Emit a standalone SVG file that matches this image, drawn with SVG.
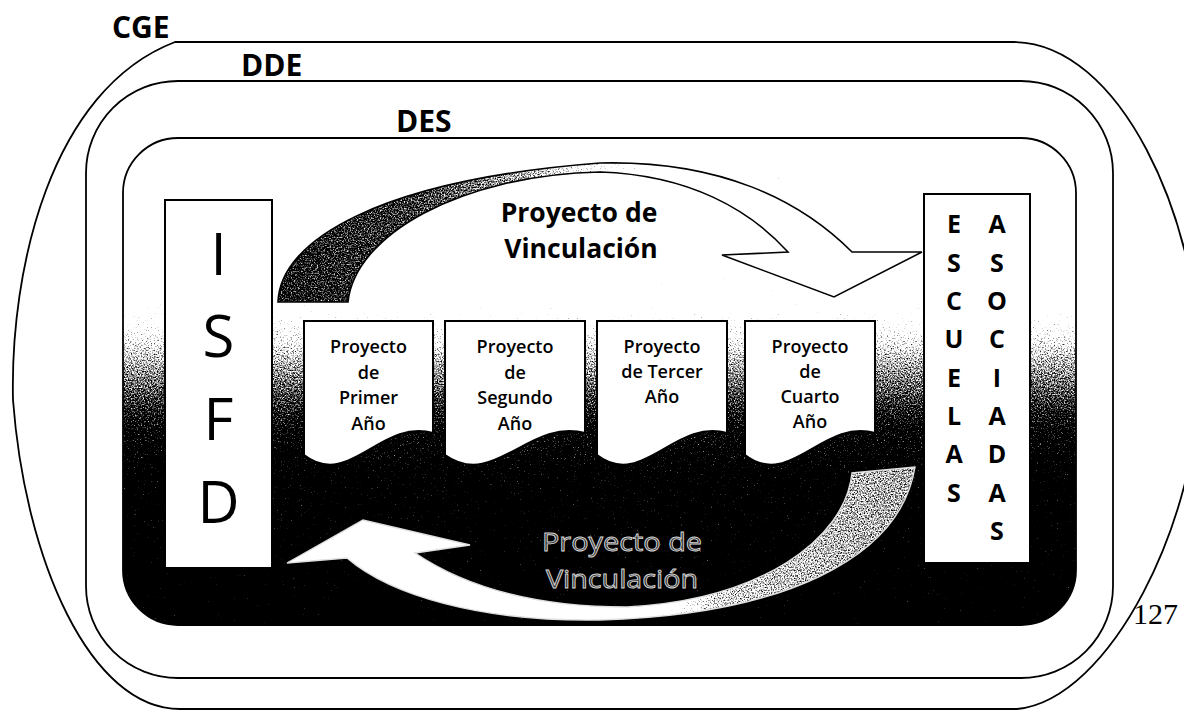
<svg xmlns="http://www.w3.org/2000/svg" width="1184" height="711" viewBox="0 0 1184 711">
<defs>
<style>
.bnd{fill:none;stroke:#000;stroke-width:1.8}
.lbl{font-family:"Open Sans","Liberation Sans",sans-serif;font-weight:700;font-size:30px;fill:#000}
.box{fill:#fff;stroke:#000;stroke-width:2}
.big{font-family:"Open Sans","Liberation Sans",sans-serif;font-size:58px;fill:#000;text-anchor:middle}
.col{font-family:"Open Sans","Liberation Sans",sans-serif;font-weight:700;font-size:25px;fill:#000;text-anchor:middle}
.doc{fill:#fff;stroke:#000;stroke-width:2}
.dt{font-family:"Open Sans","Liberation Sans",sans-serif;font-weight:600;font-size:18px;fill:#000;text-anchor:middle}
.arrt{font-family:"Open Sans","Liberation Sans",sans-serif;font-weight:700;font-size:26.5px;fill:#000;text-anchor:middle}
.emb{font-family:"Open Sans","Liberation Sans",sans-serif;font-size:26px;fill:#2a2a2a;stroke:#d4d4d4;stroke-width:0.9;text-anchor:middle}
</style>
<linearGradient id="desFill" gradientUnits="userSpaceOnUse" x1="0" y1="137" x2="0" y2="625">
<stop offset="0" stop-color="#ffffff"/>
<stop offset="0.293" stop-color="#ffffff"/>
<stop offset="0.355" stop-color="#ececec"/>
<stop offset="0.416" stop-color="#b8b8b8"/>
<stop offset="0.467" stop-color="#909090"/>
<stop offset="0.529" stop-color="#6a6a6a"/>
<stop offset="0.6" stop-color="#404040"/>
<stop offset="0.703" stop-color="#262626"/>
<stop offset="1" stop-color="#151515"/>
</linearGradient>
<linearGradient id="topArrFill" gradientUnits="userSpaceOnUse" x1="278" y1="0" x2="700" y2="0">
<stop offset="0" stop-color="#555"/>
<stop offset="0.34" stop-color="#666"/>
<stop offset="0.575" stop-color="#909090"/>
<stop offset="0.76" stop-color="#c8c8c8"/>
<stop offset="0.95" stop-color="#fff"/>
<stop offset="1" stop-color="#fff"/>
</linearGradient>
<linearGradient id="botArrFill" gradientUnits="userSpaceOnUse" x1="560" y1="0" x2="915" y2="0">
<stop offset="0" stop-color="#fff"/>
<stop offset="0.25" stop-color="#fff"/>
<stop offset="0.45" stop-color="#a0a0a0"/>
<stop offset="1" stop-color="#8c8c8c"/>
</linearGradient>
<filter id="grain" x="-0.02" y="-0.02" width="1.04" height="1.04" color-interpolation-filters="sRGB">
<feTurbulence type="fractalNoise" baseFrequency="0.7" numOctaves="2" seed="7" result="noise"/>
<feColorMatrix in="noise" type="matrix" values="1 0 0 0 0  1 0 0 0 0  1 0 0 0 0  0 0 0 0 1" result="gn"/>
<feComposite in="SourceGraphic" in2="gn" operator="arithmetic" k1="0" k2="1" k3="0.9" k4="-0.45" result="mix"/>
<feComponentTransfer in="mix" result="thr">
<feFuncR type="linear" slope="3" intercept="-1"/>
<feFuncG type="linear" slope="3" intercept="-1"/>
<feFuncB type="linear" slope="3" intercept="-1"/>
</feComponentTransfer>
<feComposite in="thr" in2="SourceGraphic" operator="in"/>
</filter>
</defs>
<rect x="0" y="0" width="1184" height="711" fill="#fff"/>

<g id="cge">
<path class="bnd" d="M175,42 H1013 C1120,42 1200,220 1200,370 C1200,520 1110,700 1017,709 H180 C90,709 25,560 13,400 C10,270 50,90 175,42 Z"/>
<text class="lbl" x="112" y="38">CGE</text>
</g>

<g id="dde">
<rect class="bnd" x="86" y="81" width="1027" height="597" rx="92" ry="92"/>
<text class="lbl" x="241" y="76">DDE</text>
</g>

<g id="des">
<rect x="123" y="138" width="953" height="487" rx="55" ry="55" fill="url(#desFill)" filter="url(#grain)"/>
<rect class="bnd" x="123" y="138" width="953" height="487" rx="55" ry="55"/>
<text class="lbl" x="396" y="132">DES</text>
</g>

<g id="isfd">
<rect class="box" x="165" y="200" width="107" height="368"/>
<text class="big" x="218.5" y="275">I</text>
<text class="big" x="218.5" y="357">S</text>
<text class="big" x="218.5" y="440">F</text>
<text class="big" x="218.5" y="523">D</text>
</g>

<g id="escuelas-asociadas">
<rect class="box" x="924" y="194" width="106" height="369"/>
<text class="col" x="954" y="233">E</text>
<text class="col" x="954" y="272">S</text>
<text class="col" x="954" y="310">C</text>
<text class="col" x="954" y="348">U</text>
<text class="col" x="954" y="387">E</text>
<text class="col" x="954" y="425">L</text>
<text class="col" x="954" y="463">A</text>
<text class="col" x="954" y="502">S</text>
<text class="col" x="997" y="233">A</text>
<text class="col" x="997" y="272">S</text>
<text class="col" x="997" y="310">O</text>
<text class="col" x="997" y="348">C</text>
<text class="col" x="997" y="387">I</text>
<text class="col" x="997" y="425">A</text>
<text class="col" x="997" y="463">D</text>
<text class="col" x="997" y="502">A</text>
<text class="col" x="997" y="540">S</text>
</g>

<g id="doc1">
<path class="doc" d="M304,321 H433 V433 C381,418 349,490 304,455 Z"/>
<text class="dt" x="368.5" y="353">Proyecto</text>
<text class="dt" x="368.5" y="379">de</text>
<text class="dt" x="368.5" y="404">Primer</text>
<text class="dt" x="368.5" y="430">Año</text>
</g>

<g id="doc2">
<path class="doc" d="M445,321 H585 V433 C529,418 494,490 445,455 Z"/>
<text class="dt" x="515" y="353">Proyecto</text>
<text class="dt" x="515" y="379">de</text>
<text class="dt" x="515" y="404">Segundo</text>
<text class="dt" x="515" y="430">Año</text>
</g>

<g id="doc3">
<path class="doc" d="M597,321 H727 V433 C675,418 642,490 597,455 Z"/>
<text class="dt" x="662" y="353">Proyecto</text>
<text class="dt" x="662" y="378">de Tercer</text>
<text class="dt" x="662" y="403">Año</text>
</g>

<g id="doc4">
<path class="doc" d="M745,321 H875 V433 C823,418 790,490 745,455 Z"/>
<text class="dt" x="810" y="353">Proyecto</text>
<text class="dt" x="810" y="378">de</text>
<text class="dt" x="810" y="403">Cuarto</text>
<text class="dt" x="810" y="428">Año</text>
</g>

<g id="connectors">
<path d="M278,302 C280,240 380,180 600,163 C720,160 800,200 852,252 L922,252 L834,297 L722,255 L788,252 C750,210 690,175 600,172 C460,175 355,235 348,302 Z" fill="url(#topArrFill)" filter="url(#grain)"/>
<path d="M278,302 C280,240 380,180 600,163 C720,160 800,200 852,252 L922,252 L834,297 L722,255 L788,252 C750,210 690,175 600,172 C460,175 355,235 348,302 Z" fill="none" stroke="#000" stroke-width="1.6"/>
<text class="arrt" x="579" y="222">Proyecto de</text>
<text class="arrt" x="581" y="258">Vinculación</text>

<path d="M915,467 C900,560 780,615 600,620 C480,622 390,595 347,558 L287,563 L363,520 L470,545 L415,553 C470,590 540,607 627,607 C760,600 845,540 852,473 Z" fill="url(#botArrFill)" filter="url(#grain)"/>
<path d="M915,467 C900,560 780,615 600,620 C480,622 390,595 347,558 L287,563 L363,520 L470,545 L415,553 C470,590 540,607 627,607 C760,600 845,540 852,473 Z" fill="none" stroke="#e0e0e0" stroke-width="1.4"/>
<text class="emb" x="622" y="551" textLength="160" lengthAdjust="spacingAndGlyphs">Proyecto de</text>
<text class="emb" x="622" y="588" textLength="152" lengthAdjust="spacingAndGlyphs">Vinculación</text>
</g>

<text x="1133" y="624" font-family="Liberation Serif, serif" font-size="30" fill="#000">127</text>
</svg>
